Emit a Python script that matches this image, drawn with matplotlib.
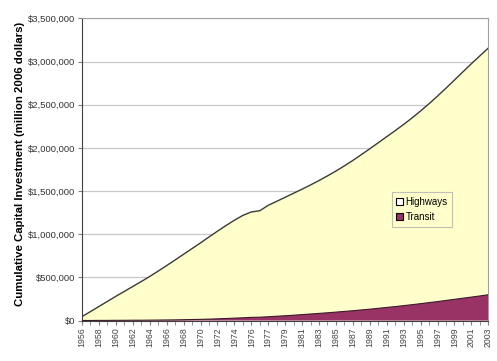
import numpy as np
import matplotlib.pyplot as plt
from matplotlib.ticker import FuncFormatter

# fiscal years, including the 1976 transition quarter
years = [str(y) for y in range(1956, 1977)] + ['1976 TQ'] + [str(y) for y in range(1977, 2004)]

# cumulative investment, thousands of million 2006 dollars
highways = [46, 104, 163, 222, 281, 338, 395, 452, 511, 573,
            637, 702, 768, 834, 900, 968, 1035, 1100, 1162, 1218,
            1258, 1272, 1335, 1381, 1428, 1475, 1522, 1571, 1622, 1676,
            1732, 1792, 1855, 1922, 1990, 2060, 2130, 2200, 2272, 2348,
            2428, 2512, 2600, 2692, 2786, 2881, 2975, 3066, 3156]
transit = [1, 1, 2, 2, 3, 3, 4, 4, 5, 6,
           7, 8, 10, 12, 14, 17, 20, 24, 28, 32,
           37, 39, 44, 50, 56, 62, 69, 76, 83, 90,
           98, 106, 114, 123, 132, 142, 152, 162, 173, 184,
           196, 208, 220, 233, 246, 259, 272, 285, 299]

highways = np.array(highways) * 1000
transit = np.array(transit) * 1000
x = np.arange(len(years))

plt.rcParams['font.family'] = ['Liberation Sans', 'DejaVu Sans']

fig = plt.figure(figsize=(4.97, 3.61), dpi=100)
ax = fig.add_axes([0.165, 0.112, 0.8175, 0.837])

ax.fill_between(x, 0, highways, color='#FFFFCC', edgecolor='none', label='Highways', zorder=2)
ax.plot(x, highways, color='#3a3a3a', lw=1.0, zorder=3)
ax.fill_between(x, 0, transit, color='#993366', edgecolor='none', label='Transit', zorder=4)
ax.plot(x, transit, color='#3a1a2a', lw=0.8, zorder=5)

ax.set_xlim(0, len(years) - 1)
ax.set_ylim(0, 3500000)
ax.set_yticks(np.arange(0, 3500001, 500000))
ax.yaxis.set_major_formatter(FuncFormatter(lambda v, p: '${:,.0f}'.format(v)))
ax.grid(axis='y', color='#c8c8c8', lw=0.9, zorder=1)

ax.set_xticks(x[::2])
ax.set_xticklabels(years[::2], rotation=90)
ax.set_xticks(x, minor=True)
ax.tick_params(axis='x', which='both', length=3, color='#808080', labelsize=6.3, pad=2)
ax.tick_params(axis='y', length=3, color='#808080', labelsize=6.8, pad=2, labelcolor='#333333')
ax.tick_params(axis='x', labelcolor='#444444')

for s in ['top', 'right']:
    ax.spines[s].set_color('#a0a0a0')
for s in ['left', 'bottom']:
    ax.spines[s].set_color('#404040')

ax.set_ylabel('Cumulative Capital Investment (million 2006 dollars)',
              fontsize=8.2, fontweight='bold')
ax.yaxis.set_label_coords(-0.14, 0.52)

h1 = plt.Rectangle((0, 0), 1, 1, facecolor='white', edgecolor='black', lw=0.8)
h2 = plt.Rectangle((0, 0), 1, 1, facecolor='#993366', edgecolor='black', lw=0.8)
leg = ax.legend([h1, h2], ['Highways', 'Transit'], loc='upper left',
                bbox_to_anchor=(0.75, 0.44), fontsize=7, frameon=True,
                fancybox=False, handlelength=0.7, handleheight=0.7,
                handletextpad=0.3, borderpad=0.45, labelspacing=0.55)
leg.get_frame().set_facecolor('#FFFFCC')
leg.get_frame().set_edgecolor('#b0b0b0')
leg.get_frame().set_linewidth(0.8)

fig.savefig('out.png', dpi=100)
